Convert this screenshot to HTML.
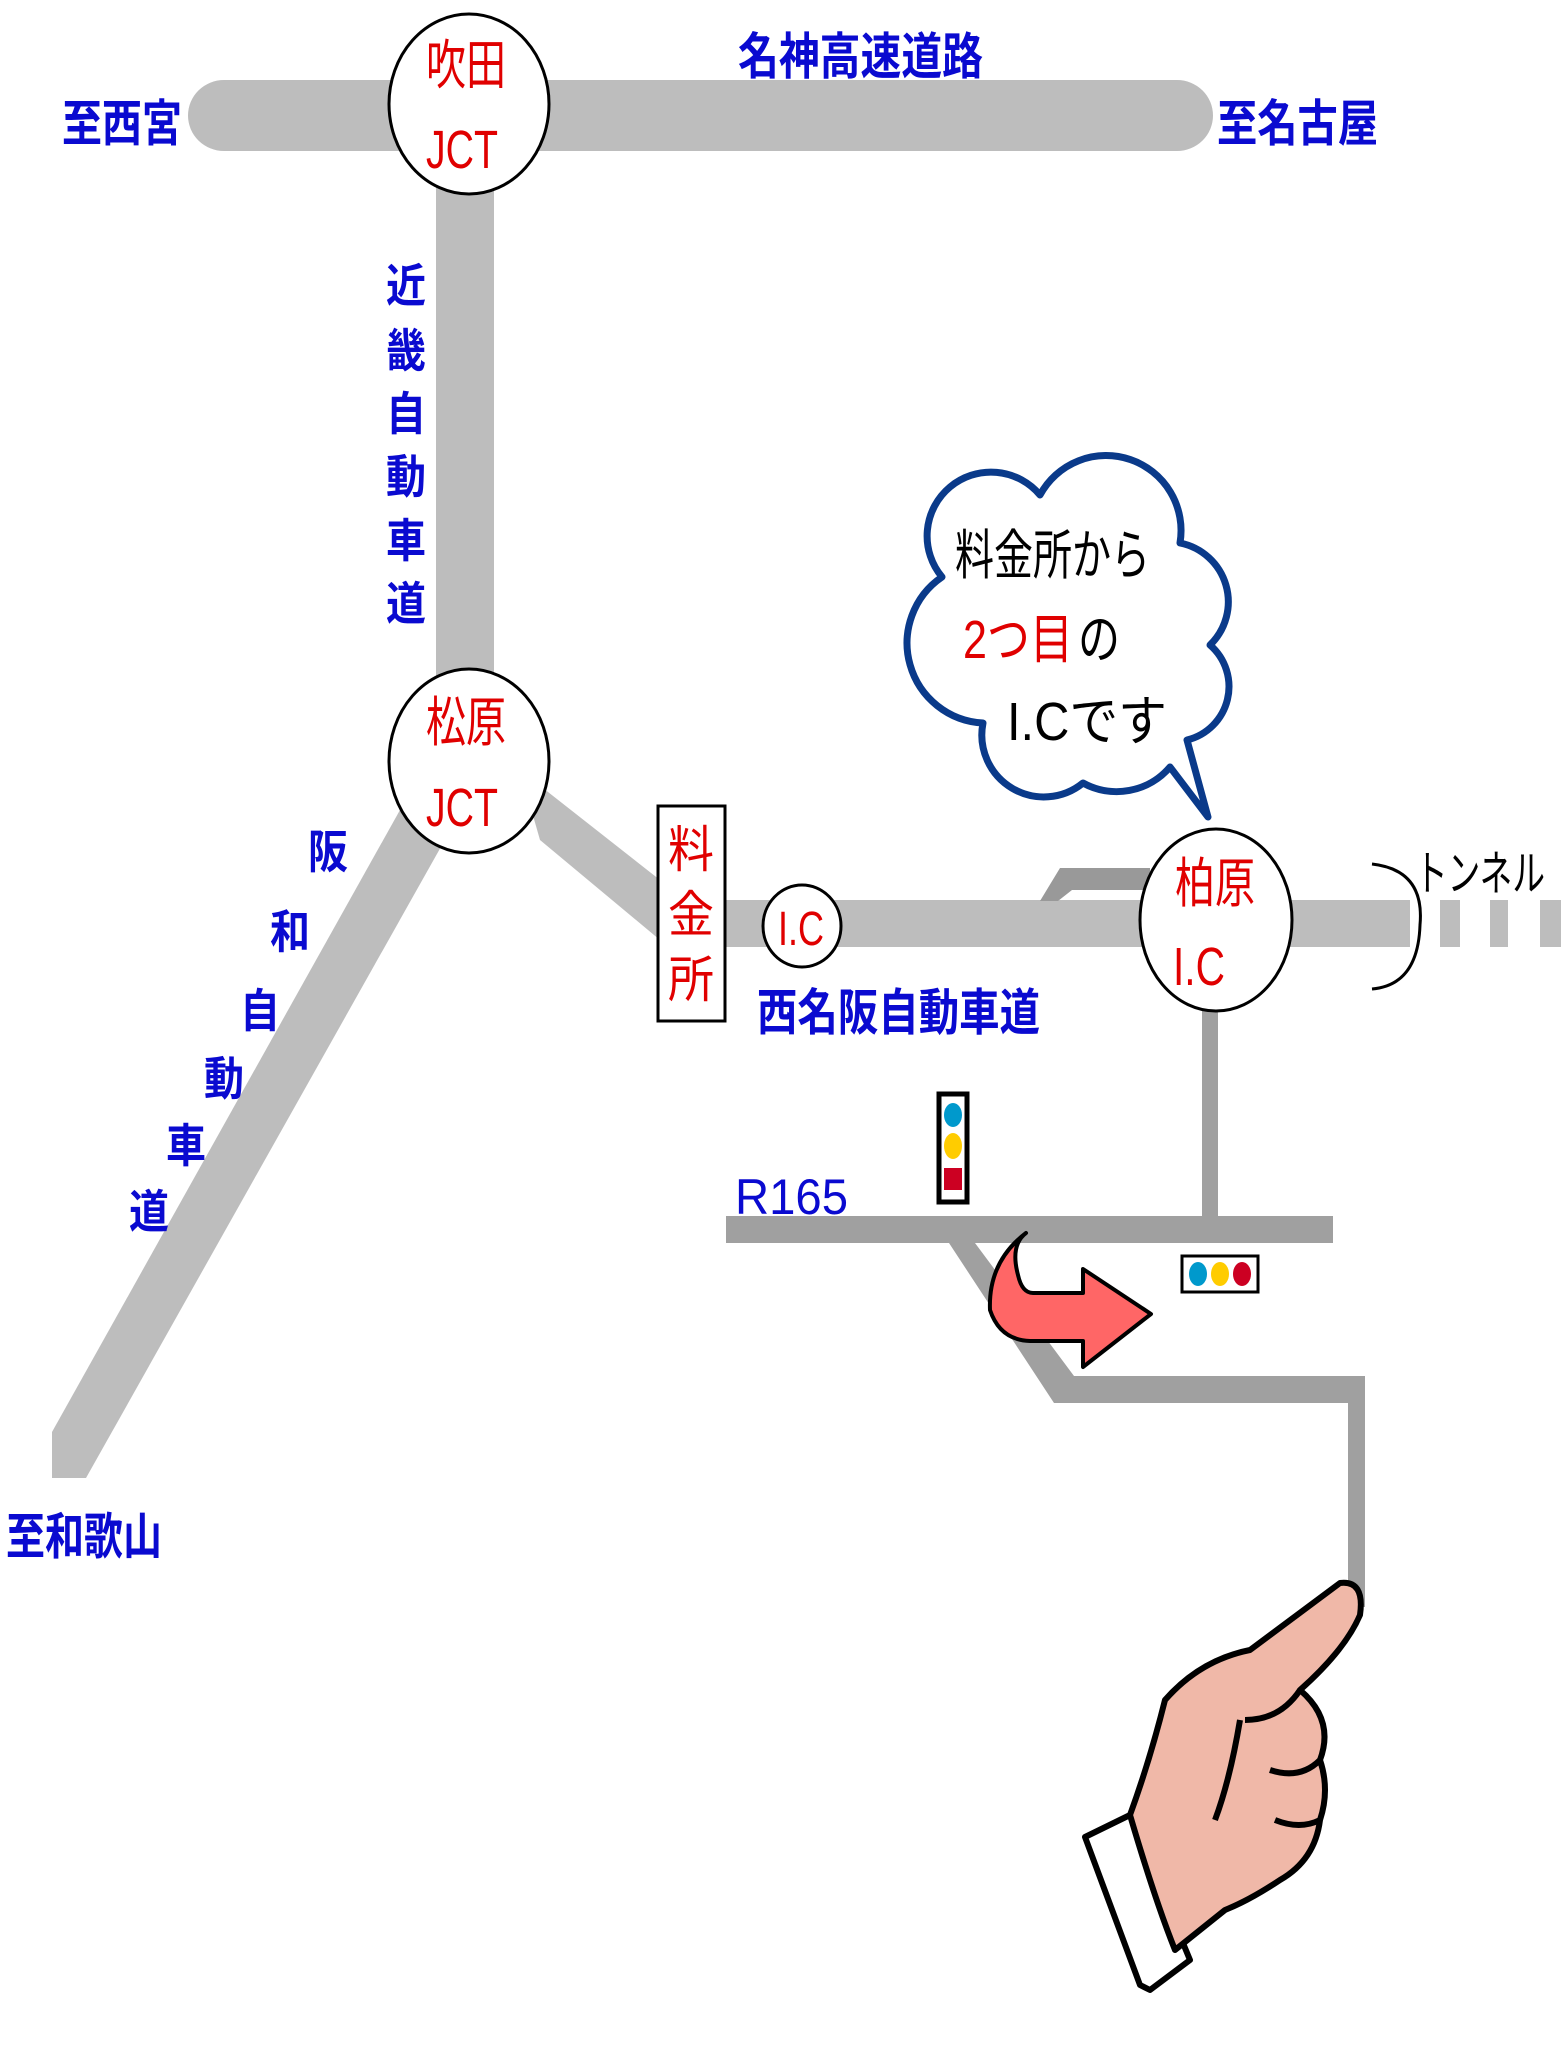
<!DOCTYPE html>
<html><head><meta charset="utf-8"><style>
html,body{margin:0;padding:0;background:#fff;}
svg{display:block;}
text{font-family:"Liberation Sans","Noto Sans CJK JP",sans-serif;}
</style></head><body>
<svg width="1561" height="2060" viewBox="0 0 1561 2060" xmlns="http://www.w3.org/2000/svg">
<!-- top road -->
<rect x="188" y="80" width="1025" height="71" rx="36" fill="#bdbdbd"/>
<!-- vertical road -->
<rect x="436" y="150" width="58" height="540" fill="#bdbdbd"/>
<!-- diagonal to toll -->
<polygon points="520,770 660,880 660,940 540,840" fill="#bdbdbd"/>
<!-- hanwa road -->
<polygon points="400,810 442,845 86,1478 52,1478 52,1432" fill="#bdbdbd"/>
<!-- nishimeihan road -->
<rect x="726" y="900" width="684" height="47" fill="#bdbdbd"/>
<rect x="1440" y="900" width="20" height="47" fill="#bdbdbd"/>
<rect x="1490" y="900" width="18" height="47" fill="#bdbdbd"/>
<rect x="1540" y="900" width="21" height="47" fill="#bdbdbd"/>
<!-- ramp -->
<polygon points="1040,901 1060,868 1150,868 1150,890 1072,890 1058,901" fill="#999"/>
<!-- local roads -->
<rect x="1202" y="1005" width="16" height="212" fill="#a0a0a0"/>
<rect x="726" y="1216" width="607" height="27" fill="#a0a0a0"/>
<polygon points="949,1243 975,1243 1074,1376 1365,1376 1365,1607 1348,1607 1348,1403 1054,1403" fill="#a0a0a0"/>

<!-- circles -->
<ellipse cx="469" cy="104" rx="80" ry="90" fill="#fff" stroke="#000" stroke-width="3"/>
<ellipse cx="469" cy="761" rx="80" ry="92" fill="#fff" stroke="#000" stroke-width="3"/>
<ellipse cx="802" cy="926" rx="39" ry="41" fill="#fff" stroke="#000" stroke-width="3"/>
<ellipse cx="1216" cy="920" rx="76" ry="91" fill="#fff" stroke="#000" stroke-width="3"/>
<rect x="658" y="806" width="67" height="215" fill="#fff" stroke="#000" stroke-width="3"/>

<g fill="#e00000" font-size="54">
<text x="426" y="84" textLength="80" lengthAdjust="spacingAndGlyphs">吹田</text>
<text x="426" y="168" textLength="72" lengthAdjust="spacingAndGlyphs">JCT</text>
<text x="426" y="741" textLength="80" lengthAdjust="spacingAndGlyphs">松原</text>
<text x="426" y="826" textLength="72" lengthAdjust="spacingAndGlyphs">JCT</text>
<text x="1175" y="902" textLength="80" lengthAdjust="spacingAndGlyphs">柏原</text>
<text x="1173" y="985" textLength="52" lengthAdjust="spacingAndGlyphs">I.C</text>
<text x="668" y="867" font-size="50" textLength="46" lengthAdjust="spacingAndGlyphs">料</text>
<text x="668" y="932" font-size="50" textLength="46" lengthAdjust="spacingAndGlyphs">金</text>
<text x="668" y="997" font-size="50" textLength="46" lengthAdjust="spacingAndGlyphs">所</text>
<text x="778" y="945" font-size="48" textLength="46" lengthAdjust="spacingAndGlyphs">I.C</text>
</g>

<g fill="#0a0ad0" font-size="50" font-weight="bold">
<text x="738" y="74" textLength="245" lengthAdjust="spacingAndGlyphs">名神高速道路</text>
<text x="62" y="141" textLength="120" lengthAdjust="spacingAndGlyphs">至西宮</text>
<text x="1217" y="141" textLength="161" lengthAdjust="spacingAndGlyphs">至名古屋</text>
<text x="386" y="302" font-size="46" textLength="40" lengthAdjust="spacingAndGlyphs">近</text>
<text x="386" y="367" font-size="46" textLength="40" lengthAdjust="spacingAndGlyphs">畿</text>
<text x="386" y="430" font-size="46" textLength="40" lengthAdjust="spacingAndGlyphs">自</text>
<text x="386" y="493" font-size="46" textLength="40" lengthAdjust="spacingAndGlyphs">動</text>
<text x="386" y="557" font-size="46" textLength="40" lengthAdjust="spacingAndGlyphs">車</text>
<text x="386" y="620" font-size="46" textLength="40" lengthAdjust="spacingAndGlyphs">道</text>
<text x="308" y="868" font-size="46" textLength="40" lengthAdjust="spacingAndGlyphs">阪</text>
<text x="270" y="948" font-size="46" textLength="40" lengthAdjust="spacingAndGlyphs">和</text>
<text x="240" y="1027" font-size="46" textLength="40" lengthAdjust="spacingAndGlyphs">自</text>
<text x="204" y="1095" font-size="46" textLength="40" lengthAdjust="spacingAndGlyphs">動</text>
<text x="166" y="1162" font-size="46" textLength="40" lengthAdjust="spacingAndGlyphs">車</text>
<text x="129" y="1228" font-size="46" textLength="40" lengthAdjust="spacingAndGlyphs">道</text>
<text x="6" y="1554" textLength="156" lengthAdjust="spacingAndGlyphs">至和歌山</text>
<text x="757" y="1030" textLength="283" lengthAdjust="spacingAndGlyphs">西名阪自動車道</text>
<text x="735" y="1214" font-weight="normal" textLength="113" lengthAdjust="spacingAndGlyphs">R165</text>
</g>

<!-- tunnel -->
<path d="M1372,864 Q1425,870 1420,925 Q1418,985 1372,989" fill="none" stroke="#000" stroke-width="3"/>
<text x="1415" y="890" font-size="48" fill="#000" textLength="130" lengthAdjust="spacingAndGlyphs">トンネル</text>

<!-- cloud -->
<path d="M942,577 A62,62 0 0 1 1040,495 A75,75 0 0 1 1180,543 A60,60 0 0 1 1210,645 A55,55 0 0 1 1187,740 L1208,817 L1170,767 A70,70 0 0 1 1083,783 A62,62 0 0 1 983,723 A80,80 0 0 1 942,577 Z" fill="#fff" stroke="#0a3a8a" stroke-width="7" stroke-linejoin="round"/>
<text x="955" y="574" font-size="54" fill="#000" textLength="195" lengthAdjust="spacingAndGlyphs">料金所から</text>
<text x="963" y="658" font-size="54" fill="#e00000" textLength="110" lengthAdjust="spacingAndGlyphs">2つ目</text>
<text x="1078" y="658" font-size="54" fill="#000" textLength="42" lengthAdjust="spacingAndGlyphs">の</text>
<text x="1007" y="740" font-size="54" fill="#000" textLength="160" lengthAdjust="spacingAndGlyphs">I.Cです</text>

<!-- traffic lights -->
<rect x="939" y="1094" width="28" height="108" fill="#fff" stroke="#000" stroke-width="5"/>
<ellipse cx="953" cy="1115" rx="9" ry="12" fill="#0099cc"/>
<ellipse cx="953" cy="1146" rx="9" ry="13" fill="#ffcc00"/>
<rect x="944" y="1168" width="18" height="22" fill="#cc0022"/>
<rect x="1182" y="1256" width="76" height="36" fill="#fff" stroke="#000" stroke-width="3"/>
<ellipse cx="1198" cy="1274" rx="9" ry="12" fill="#0099cc"/>
<ellipse cx="1220" cy="1274" rx="9" ry="12" fill="#ffcc00"/>
<ellipse cx="1242" cy="1274" rx="9" ry="12" fill="#cc0022"/>

<!-- red arrow -->
<path d="M1026,1233 Q1010,1245 1018,1275 Q1022,1293 1033,1293 L1083,1293 L1083,1269 L1151,1314 L1083,1367 L1083,1341 L1030,1341 Q1000,1340 990,1310 Q988,1262 1026,1233 Z" fill="#ff6666" stroke="#000" stroke-width="4" stroke-linejoin="round"/>

<!-- hand -->
<g stroke="#000" stroke-width="6" stroke-linejoin="round">
<polygon points="1085,1837 1130,1815 1190,1960 1150,1990 1140,1985" fill="#fff"/>
<path d="M1130,1815 Q1150,1760 1165,1700 Q1200,1660 1250,1650 Q1290,1620 1340,1583 Q1365,1580 1360,1615 Q1345,1650 1300,1690 Q1335,1720 1320,1760 Q1330,1790 1320,1820 Q1315,1860 1280,1880 Q1250,1900 1225,1910 Q1200,1930 1175,1950 Q1155,1900 1130,1815 Z" fill="#f0b8a8"/>
<path d="M1300,1690 Q1280,1720 1245,1720 M1320,1760 Q1300,1780 1270,1770 M1320,1820 Q1300,1830 1275,1820 M1240,1720 Q1230,1780 1215,1820" fill="none"/>
</g>
</svg>
</body></html>
